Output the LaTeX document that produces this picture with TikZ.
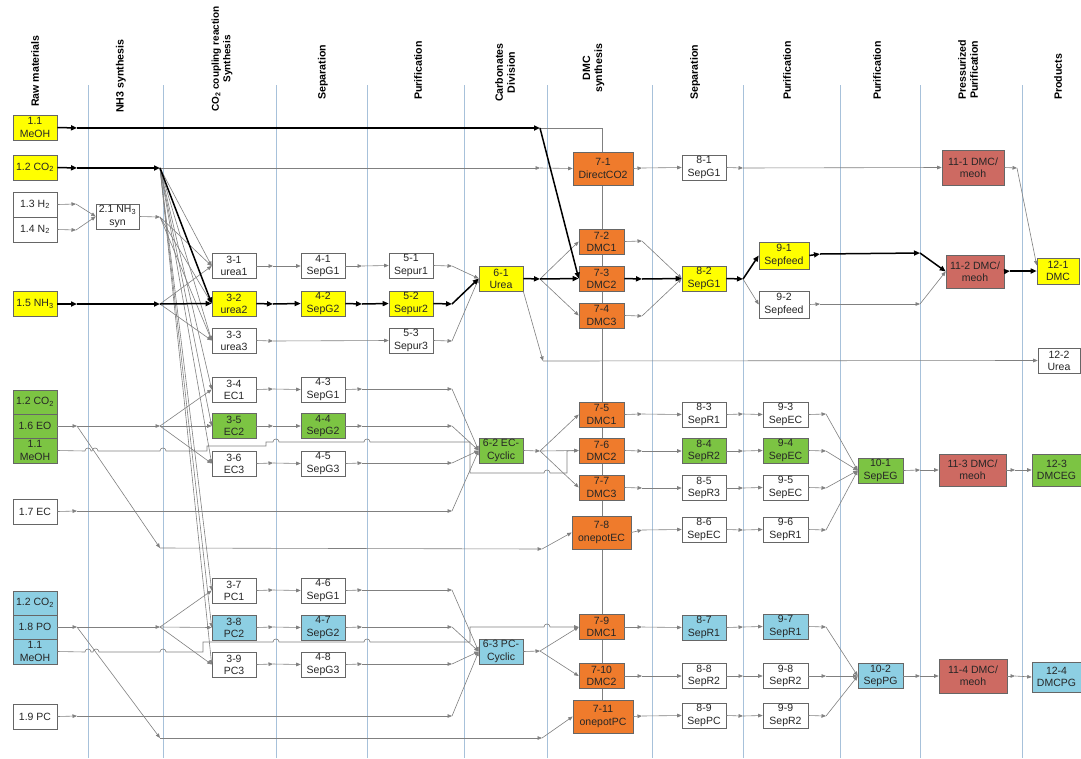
\documentclass[tikz,border=0pt]{standalone}
\usepackage{fontspec}
\setmainfont{Liberation Sans}
\usetikzlibrary{arrows.meta}
\definecolor{cyel}{HTML}{FFFF00}
\definecolor{corg}{HTML}{EF7B2C}
\definecolor{cred}{HTML}{CD6A62}
\definecolor{cgrn}{HTML}{7CC443}
\definecolor{cblu}{HTML}{8DCFE3}
\definecolor{clane}{HTML}{A7C1DA}
\definecolor{cline}{HTML}{808080}
\begin{document}
\begin{tikzpicture}[x=1pt,y=-1pt,
  lane/.style={draw=clane, line width=0.9pt},
  hdr/.style={rotate=90, anchor=west, align=center, inner sep=0pt,
    font=\fontsize{10.6}{12}\selectfont\bfseries},
  procbox/.style={draw=black!60, line width=0.6pt, fill=white, inner sep=0pt,
    align=center, minimum width=44pt, minimum height=25pt, text=black!85,
    font=\fontsize{10.5}{12.2}\selectfont},
  bigbox/.style={procbox, minimum width=60pt, minimum height=33pt},
  flow/.style={draw=cline, line width=0.6pt, -{Triangle[length=4.5pt,width=3.6pt]}},
  heavy/.style={draw=black, line width=1.5pt, -{Triangle[length=6pt,width=5pt]}},
  feed/.style={draw=cline, line width=0.6pt}]

\fill[white] (0,0) rectangle (1081,758);
\useasboundingbox (0,0) rectangle (1081,758);

% lane separators
\foreach \x in {88,163,276,367,464,547,652,743,840,920,1022}
  \draw[lane] (\x,85) -- (\x,758);

% junction points of the flow network
\coordinate (ma) at (77,128);   \coordinate (mb) at (540,128);
\coordinate (mc) at (602,128);  \coordinate (md) at (602,700);
\coordinate (ca) at (77,168);   \coordinate (cb) at (160,168);
\coordinate (cc) at (540,168);
\coordinate (ha) at (76,204);   \coordinate (na) at (76,230);
\coordinate (sa) at (160,217);
\coordinate (ua) at (77,304);   \coordinate (ub) at (160,304);
\coordinate (j31) at (273,266); \coordinate (j32) at (273,304); \coordinate (j33) at (273,341);
\coordinate (j41) at (362,266); \coordinate (j42) at (362,304);
\coordinate (j51) at (452,266); \coordinate (j52) at (452,304); \coordinate (j53) at (452,341);
\coordinate (j61) at (540,279); \coordinate (jur) at (543,361);
\coordinate (j71) at (642,168); \coordinate (j72) at (642,241);
\coordinate (j73) at (642,279); \coordinate (j74) at (642,316);
\coordinate (j81) at (743,168); \coordinate (j82) at (743,279);
\coordinate (j91) at (820,254); \coordinate (j91b) at (920,253);
\coordinate (j92) at (820,304); \coordinate (j92b) at (920,304);
\coordinate (j111) at (1017,168); \coordinate (j112) at (1010,271);
% ethylene carbonate branch
\coordinate (ea) at (77,426);   \coordinate (eb) at (160,426);
\coordinate (ec) at (160,548);  \coordinate (ed) at (542,549);
\coordinate (eca) at (77,511);  \coordinate (ecb) at (452,511);
\coordinate (j34) at (273,389); \coordinate (j35) at (273,426); \coordinate (j36) at (273,463);
\coordinate (j43) at (362,389); \coordinate (j44) at (362,426); \coordinate (j45) at (362,463);
\coordinate (j43b) at (452,389); \coordinate (j44b) at (452,426); \coordinate (j45b) at (452,463);
\coordinate (j62) at (540,451);
\coordinate (j75) at (642,414); \coordinate (j76) at (642,451);
\coordinate (j77) at (642,488); \coordinate (j78) at (642,530);
\coordinate (j83) at (743,414); \coordinate (j84) at (743,451);
\coordinate (j85) at (743,488); \coordinate (j86) at (743,530);
\coordinate (j93) at (826,414); \coordinate (j94) at (826,451);
\coordinate (j95) at (826,488); \coordinate (j96) at (826,530);
\coordinate (j101) at (920,470); \coordinate (j113) at (1015,470);
% propylene carbonate branch
\coordinate (pa) at (77,627);   \coordinate (pb) at (160,627);
\coordinate (pc) at (160,738);  \coordinate (pd) at (542,738);
\coordinate (pca) at (77,716);  \coordinate (pcb) at (452,716);
\coordinate (j37) at (273,590); \coordinate (j38) at (273,627); \coordinate (j39) at (273,664);
\coordinate (j46) at (362,590); \coordinate (j47) at (362,627); \coordinate (j48) at (362,664);
\coordinate (j46b) at (452,590); \coordinate (j47b) at (452,627); \coordinate (j48b) at (452,664);
\coordinate (j63) at (540,651);
\coordinate (j79) at (642,627); \coordinate (j710) at (642,676); \coordinate (j711) at (642,716);
\coordinate (j87) at (743,627); \coordinate (j88) at (743,676); \coordinate (j89) at (743,716);
\coordinate (j97) at (826,627); \coordinate (j98) at (826,676); \coordinate (j99) at (826,716);
\coordinate (j102) at (920,676); \coordinate (j114) at (1015,676);

% methanol feed line running behind the DMC reactors
\draw[feed] (mb) -- (mc) -- (md);

% raw materials
\node[procbox, fill=cyel] (r11) at (35,127.5) {1.1\\MeOH};
\node[procbox, fill=cyel] (r12) at (35,167.5) {1.2 CO\textsubscript{2}};
\node[procbox] (r13) at (35,204.5) {1.3 H\textsubscript{2}};
\node[procbox] (r14) at (35,229.5) {1.4 N\textsubscript{2}};
\node[procbox, fill=cyel] (r15) at (35,304) {1.5 NH\textsubscript{3}};
\node[procbox, fill=cgrn, minimum height=24pt] (g12) at (35,402) {1.2 CO\textsubscript{2}};
\node[procbox, fill=cgrn, minimum height=24pt] (g16) at (35,426) {1.6 EO};
\node[procbox, fill=cgrn] (g11) at (35,450.5) {1.1\\MeOH};
\node[procbox] (r17) at (35,511.5) {1.7 EC};
\node[procbox, fill=cblu, minimum height=24pt] (b12) at (35,603) {1.2 CO\textsubscript{2}};
\node[procbox, fill=cblu, minimum height=24pt] (b18) at (35,627) {1.8 PO};
\node[procbox, fill=cblu] (b11) at (35,651.5) {1.1\\MeOH};
\node[procbox] (r19) at (35,716.5) {1.9 PC};

% NH3 synthesis
\node[procbox, minimum width=43pt] (p21) at (117.5,216.5) {2.1 NH\textsubscript{3}\\syn};

% CO2 coupling reactions
\node[procbox] (p31) at (234,266) {3-1\\urea1};
\node[procbox, fill=cyel] (p32) at (234,303.5) {3-2\\urea2};
\node[procbox] (p33) at (234,340.5) {3-3\\urea3};
\node[procbox] (p34) at (234,389.5) {3-4\\EC1};
\node[procbox, fill=cgrn] (p35) at (234,426) {3-5\\EC2};
\node[procbox] (p36) at (234,463.5) {3-6\\EC3};
\node[procbox] (p37) at (234,590.5) {3-7\\PC1};
\node[procbox, fill=cblu] (p38) at (234,627.5) {3-8\\PC2};
\node[procbox] (p39) at (234,664.5) {3-9\\PC3};

% separation
\node[procbox] (p41) at (323,266) {4-1\\SepG1};
\node[procbox, fill=cyel] (p42) at (323,303.5) {4-2\\SepG2};
\node[procbox] (p43) at (323,389.5) {4-3\\SepG1};
\node[procbox, fill=cgrn] (p44) at (323,426) {4-4\\SepG2};
\node[procbox] (p45) at (323,463.5) {4-5\\SepG3};
\node[procbox] (p46) at (323,590.5) {4-6\\SepG1};
\node[procbox, fill=cblu] (p47) at (323,627.5) {4-7\\SepG2};
\node[procbox] (p48) at (323,664.5) {4-8\\SepG3};

% purification
\node[procbox] (p51) at (411,265.5) {5-1\\Sepur1};
\node[procbox, fill=cyel] (p52) at (411,303.5) {5-2\\Sepur2};
\node[procbox] (p53) at (411,340.5) {5-3\\Sepur3};

% carbonates division
\node[procbox, fill=cyel] (p61) at (501,278.5) {6-1\\Urea};
\node[procbox, fill=cgrn] (p62) at (501,450.5) {6-2 EC-\\Cyclic};
\node[procbox, fill=cblu] (p63) at (501,651.5) {6-3 PC-\\Cyclic};

% DMC synthesis
\node[bigbox, fill=corg] (p71) at (603,168.5) {7-1\\DirectCO2};
\node[procbox, fill=corg, minimum width=45pt] (p72) at (601.5,241.5) {7-2\\DMC1};
\node[procbox, fill=corg, minimum width=45pt] (p73) at (601.5,278.5) {7-3\\DMC2};
\node[procbox, fill=corg, minimum width=45pt] (p74) at (601.5,315.5) {7-4\\DMC3};
\node[procbox, fill=corg, minimum width=45pt] (p75) at (601.5,414.5) {7-5\\DMC1};
\node[procbox, fill=corg, minimum width=45pt] (p76) at (601.5,450.5) {7-6\\DMC2};
\node[procbox, fill=corg, minimum width=45pt] (p77) at (601.5,487.5) {7-7\\DMC3};
\node[bigbox, fill=corg, minimum width=59pt] (p78) at (601.5,532.5) {7-8\\onepotEC};
\node[procbox, fill=corg, minimum width=45pt] (p79) at (601.5,627) {7-9\\DMC1};
\node[procbox, fill=corg, minimum width=45pt] (p710) at (601.5,676) {7-10\\DMC2};
\node[bigbox, fill=corg] (p711) at (603,716.5) {7-11\\onepotPC};

% separation
\node[procbox] (p81) at (704,167.5) {8-1\\SepG1};
\node[procbox, fill=cyel] (p82) at (704,278.5) {8-2\\SepG1};
\node[procbox] (p83) at (704,414.5) {8-3\\SepR1};
\node[procbox, fill=cgrn] (p84) at (704,451) {8-4\\SepR2};
\node[procbox] (p85) at (704,488) {8-5\\SepR3};
\node[procbox] (p86) at (704,529.5) {8-6\\SepEC};
\node[procbox, fill=cblu] (p87) at (704,627.5) {8-7\\SepR1};
\node[procbox] (p88) at (704,676) {8-8\\SepR2};
\node[procbox] (p89) at (704,715.5) {8-9\\SepPC};

% purification
\node[procbox, fill=cyel, minimum width=50pt, minimum height=27pt] (p91) at (784,255.5) {9-1\\Sepfeed};
\node[procbox, minimum width=50pt, minimum height=27pt] (p92) at (784,304.5) {9-2\\Sepfeed};
\node[procbox, minimum width=45pt] (p93) at (785.5,414.5) {9-3\\SepEC};
\node[procbox, fill=cgrn, minimum width=45pt] (p94) at (785.5,450.5) {9-4\\SepEC};
\node[procbox, minimum width=45pt] (p95) at (785.5,487.5) {9-5\\SepEC};
\node[procbox, minimum width=45pt] (p96) at (785.5,529.5) {9-6\\SepR1};
\node[procbox, fill=cblu, minimum width=45pt] (p97) at (785.5,626.5) {9-7\\SepR1};
\node[procbox, minimum width=45pt] (p98) at (785.5,676) {9-8\\SepR2};
\node[procbox, minimum width=45pt] (p99) at (785.5,715.5) {9-9\\SepR2};

% purification
\node[procbox, fill=cgrn, minimum width=45pt] (p101) at (880.5,470.5) {10-1\\SepEG};
\node[procbox, fill=cblu, minimum width=45pt] (p102) at (880.5,676) {10-2\\SepPG};

% pressurized purification
\node[procbox, fill=cred, minimum width=62pt, minimum height=35pt] (p111) at (973,167.5) {11-1 DMC/\\meoh};
\node[procbox, fill=cred, minimum width=58pt, minimum height=33pt] (p112) at (975,271.5) {11-2 DMC/\\meoh};
\node[procbox, fill=cred, minimum width=67pt, minimum height=32pt] (p113) at (972.5,470) {11-3 DMC/\\meoh};
\node[procbox, fill=cred, minimum width=68pt, minimum height=34pt] (p114) at (973,676) {11-4 DMC/\\meoh};

% products
\node[procbox, fill=cyel, minimum width=42pt, minimum height=26pt] (p121) at (1058,271) {12-1\\DMC};
\node[procbox, minimum width=42pt] (p122) at (1059,360.5) {12-2\\Urea};
\node[procbox, fill=cgrn, minimum width=49pt, minimum height=32pt] (p123) at (1056.5,470) {12-3\\DMCEG};
\node[procbox, fill=cblu, minimum width=49pt, minimum height=30pt] (p124) at (1056.5,677) {12-4\\DMCPG};

% thin process streams
\foreach \a/\b in {
  r13.east/ha, ha/p21.west, r14.east/na, na/p21.west, p21.east/sa,
  sa/p31.west, sa/p32.west, sa/p33.west,
  cb/p31.west, cb/p33.west, cb/p34.west, cb/p35.west, cb/p36.west,
  cb/p37.west, cb/p38.west, cb/p39.west, cb/cc, cc/p71.west,
  ub/p31.west, ub/p33.west,
  p31.east/j31, j31/p41.west, p41.east/j41, j41/p51.west, p51.east/j51, j51/p61.west,
  p33.east/j33, j33/p53.west, p53.east/j53, j53/p61.west,
  j61/p72.west, j61/p74.west, p61.south east/jur, jur/p122.west,
  p71.east/j71, j71/p81.west, p81.east/j81, j81/p111.west, p111.east/j111, j111/p121.165,
  p72.east/j72, j72/p82.west, p74.east/j74, j74/p82.west,
  j82/p92.west, p92.east/j92, j92/j92b, j92b/p112.west,
  g16.east/ea, ea/eb, eb/p34.west, eb/p35.west, eb/p36.west, ea/ec, ec/ed, ed/p78.west,
  r17.east/eca, eca/ecb, ecb/p62.west,
  p34.east/j34, j34/p43.west, p43.east/j43, j43/j43b, j43b/p62.west,
  p35.east/j35, j35/p44.west, p44.east/j44, j44/j44b, j44b/p62.west,
  p36.east/j36, j36/p45.west, p45.east/j45, j45/j45b, j45b/p62.west,
  p62.east/j62, j62/p75.west, j62/p76.west, j62/p77.west,
  p75.east/j75, j75/p83.west, p83.east/j83, j83/p93.west, p93.east/j93, j93/p101.west,
  p76.east/j76, j76/p84.west, p84.east/j84, j84/p94.west, p94.east/j94, j94/p101.west,
  p77.east/j77, j77/p85.west, p85.east/j85, j85/p95.west, p95.east/j95, j95/p101.west,
  p78.east/j78, j78/p86.west, p86.east/j86, j86/p96.west, p96.east/j96, j96/p101.west,
  p101.east/j101, j101/p113.west, p113.east/j113, j113/p123.west,
  b18.east/pa, pa/pb, pb/p37.west, pb/p38.west, pb/p39.west, pa/pc, pc/pd, pd/p711.west,
  r19.east/pca, pca/pcb, pcb/p63.west,
  p37.east/j37, j37/p46.west, p46.east/j46, j46/j46b, j46b/p63.west,
  p38.east/j38, j38/p47.west, p47.east/j47, j47/j47b, j47b/p63.west,
  p39.east/j39, j39/p48.west, p48.east/j48, j48/j48b, j48b/p63.west,
  p63.east/j63, j63/p79.west, j63/p710.west,
  p79.east/j79, j79/p87.west, p87.east/j87, j87/p97.west, p97.east/j97, j97/p102.west,
  p710.east/j710, j710/p88.west, p88.east/j88, j88/p98.west, p98.east/j98, j98/p102.west,
  p711.east/j711, j711/p89.west, p89.east/j89, j89/p99.west, p99.east/j99, j99/p102.west,
  p102.east/j102, j102/p114.west, p114.east/j114, j114/p124.west}
  \draw[flow] (\a) -- (\b);

% main urea route to DMC
\foreach \a/\b in {
  r11.east/ma, ma/mb, mb/p73.west, r12.east/ca, ca/cb, cb/p32.west,
  r15.east/ua, ua/ub, ub/p32.west,
  p32.east/j32, j32/p42.west, p42.east/j42, j42/p52.west, p52.east/j52, j52/p61.west,
  p61.east/j61, j61/p73.west, p73.east/j73, j73/p82.west, p82.east/j82, j82/p91.west,
  p91.east/j91, j91/j91b, j91b/p112.west, p112.east/j112, j112/p121.west}
  \draw[heavy] (\a) -- (\b);

% methanol to the EC route, hopping over crossing lines
\draw[flow] (g11.east) -- (85,451) .. controls (85,447) and (91,447) .. (91,451)
  -- (92,451) .. controls (92,447) and (98,447) .. (98,451)
  -- (160,451) .. controls (160,447) and (166,447) .. (166,451)
  -- (207,451) -- (207,446) -- (266,446) -- (266,442)
  -- (273,442) .. controls (273,438) and (279,438) .. (279,442)
  -- (364,442) .. controls (364,438) and (370,438) .. (370,442)
  -- (470,442) -- (470,473)
  -- (544,473) .. controls (544,469) and (550,469) .. (550,473)
  -- (567,473) -- (567,451) -- (p76.west);

% methanol to the PC route
\draw[flow] (b11.east) -- (85,652) .. controls (85,648) and (91,648) .. (91,652)
  -- (93,652) .. controls (93,648) and (99,648) .. (99,652)
  -- (160,652) .. controls (160,648) and (166,648) .. (166,652)
  -- (203,652) -- (203,642)
  -- (273,642) .. controls (273,638) and (279,638) .. (279,642)
  -- (364,642) .. controls (364,638) and (370,638) .. (370,642)
  -- (470,642) -- (470,627)
  -- (544,627) .. controls (544,623) and (550,623) .. (550,627)
  -- (p79.west);

% column headings
\node[hdr] (h1) at (35,107) {Raw materials};
\node[hdr] (h2) at (121,113) {NH3 synthesis};
\node[hdr, font=\fontsize{10}{11.5}\selectfont\bfseries] (h3) at (222,112) {CO\textsubscript{2} coupling reaction\\Synthesis};
\node[hdr] (h4) at (323,100) {Separation};
\node[hdr] (h5) at (418,100) {Purification};
\node[hdr] (h6) at (505,102) {Carbonates\\Division};
\node[hdr] (h7) at (593.5,93) {DMC\\synthesis};
\node[hdr] (h8) at (695,100) {Separation};
\node[hdr] (h9) at (787,100) {Purification};
\node[hdr] (h10) at (877,100) {Purification};
\node[hdr] (h11) at (968,100) {Pressurized\\Purification};
\node[hdr] (h12) at (1058,100) {Products};
\end{tikzpicture}
\end{document}
